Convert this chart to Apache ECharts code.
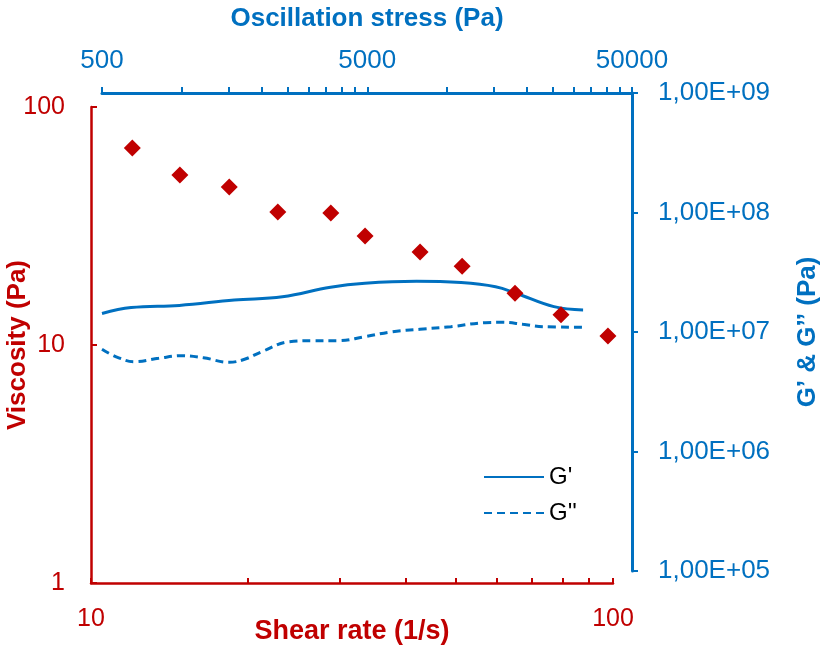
<!DOCTYPE html>
<html>
<head>
<meta charset="utf-8">
<script src="https://cdn.jsdelivr.net/npm/echarts@6/dist/echarts.min.js"></script>
<style>
  html, body { margin: 0; padding: 0; background: #fff; }
  #chart { width: 825px; height: 652px; }
</style>
</head>
<body>
<div id="chart"></div>
<script>
// viscosity vs shear rate (red diamonds)
const shearRate = [12.0, 14.8, 18.4, 22.8, 28.8, 33.5, 42.7, 51.4, 64.9, 79.5, 97.8]
const viscosity = [67.3, 51.8, 46.1, 36.2, 35.9, 28.7, 24.6, 21.4, 16.5, 13.4, 10.9]

// G' vs oscillation stress
const gpStress = [500, 644, 979, 1578, 2398, 3642, 4912, 7687, 11323, 15275, 18270, 25370, 32690]
const gPrime = [1.43e7, 1.6e7, 1.67e7, 1.85e7, 1.97e7, 2.37e7, 2.56e7, 2.66e7, 2.59e7, 2.39e7, 2.11e7, 1.63e7, 1.53e7]

// G'' vs oscillation stress
const gdpStress = [500, 572, 664, 818, 1009, 1207, 1510, 1726, 2004, 2545, 3139, 3866, 4912, 6232, 7917, 10360, 13960, 16220, 19400, 23190, 32690]
const gDoublePrime = [7.16e6, 6.14e6, 5.64e6, 6.03e6, 6.34e6, 6.09e6, 5.58e6, 5.91e6, 6.84e6, 8.3e6, 8.46e6, 8.46e6, 9.14e6, 1.006e7, 1.054e7, 1.108e7, 1.197e7, 1.205e7, 1.16e7, 1.108e7, 1.095e7]

const RED = '#C00000'
const BLUE = '#0070C0'
const FONT = "'Liberation Sans', Arial, sans-serif"

const zip = (xs, ys) => xs.map((x, i) => [x, ys[i]])

// 1,00E+09 style labels
const sciLabel = (v) => {
  const exp = Math.round(Math.log10(v))
  const mant = (v / Math.pow(10, exp)).toFixed(2).replace('.', ',')
  return mant + 'E+' + String(exp).padStart(2, '0')
}

const chart = echarts.init(document.getElementById('chart'))

const option = {
  animation: false,
  textStyle: { fontFamily: FONT },
  grid: [
    { left: 91, top: 107, right: 212, bottom: 69, outerBoundsMode: 'none' },
    { left: 102, top: 93, right: 193, bottom: 81, outerBoundsMode: 'none' },
  ],
  legend: {
    data: ["G'", "G''"],
    orient: 'vertical',
    left: 483,
    top: 465,
    padding: 0,
    itemWidth: 60,
    itemHeight: 24,
    itemGap: 12,
    itemStyle: { opacity: 0 },
    textStyle: { fontSize: 24, color: '#000', fontFamily: FONT },
  },
  xAxis: [
    {
      type: 'log',
      gridIndex: 0,
      position: 'bottom',
      min: 10,
      max: 100,
      name: 'Shear rate (1/s)',
      nameLocation: 'middle',
      nameGap: 35,
      nameMoveOverlap: false,
      nameTextStyle: { color: RED, fontSize: 27, fontWeight: 'bold', fontFamily: FONT },
      axisLine: { lineStyle: { color: RED, width: 2.5 } },
      axisTick: { inside: true, length: 5, lineStyle: { color: RED, width: 2 } },
      minorTick: { show: true, splitNumber: 9, length: 5, lineStyle: { color: RED, width: 2 } },
      axisLabel: { color: RED, fontSize: 25, margin: 24, fontFamily: FONT },
      splitLine: { show: false },
    },
    {
      type: 'log',
      gridIndex: 1,
      position: 'top',
      min: 500,
      max: 50000,
      interval: 1,
      name: 'Oscillation stress (Pa)',
      nameLocation: 'middle',
      nameGap: 61,
      nameMoveOverlap: false,
      nameTextStyle: { color: BLUE, fontSize: 26, fontWeight: 'bold', fontFamily: FONT },
      axisLine: { lineStyle: { color: BLUE, width: 3 } },
      axisTick: { inside: false, length: 6, lineStyle: { color: BLUE, width: 2 } },
      minorTick: { show: true, splitNumber: 9, length: 6, lineStyle: { color: BLUE, width: 2 } },
      axisLabel: { color: BLUE, fontSize: 26, margin: 19, fontFamily: FONT, formatter: (v) => String(Number(v.toPrecision(2))) },
      splitLine: { show: false },
    },
  ],
  yAxis: [
    {
      type: 'log',
      gridIndex: 0,
      position: 'left',
      min: 1,
      max: 100,
      name: 'Viscosity (Pa)',
      nameLocation: 'middle',
      nameGap: 60,
      nameMoveOverlap: false,
      nameTextStyle: { color: RED, fontSize: 26, fontWeight: 'bold', fontFamily: FONT },
      axisLine: { lineStyle: { color: RED, width: 2.5 } },
      axisTick: { inside: true, length: 6, lineStyle: { color: RED, width: 2 } },
      axisLabel: { color: RED, fontSize: 25, margin: 26, fontFamily: FONT },
      splitLine: { show: false },
    },
    {
      type: 'log',
      gridIndex: 1,
      position: 'right',
      min: 1e5,
      max: 1e9,
      name: 'G’ & G’’ (Pa)',
      nameLocation: 'middle',
      nameGap: 163,
      nameMoveOverlap: false,
      nameTextStyle: { color: BLUE, fontSize: 26, fontWeight: 'bold', fontFamily: FONT },
      axisLine: { lineStyle: { color: BLUE, width: 3 } },
      axisTick: { inside: false, length: 6, lineStyle: { color: BLUE, width: 2 } },
      axisLabel: { color: BLUE, fontSize: 26, margin: 26, fontFamily: FONT, formatter: sciLabel },
      splitLine: { show: false },
    },
  ],
  series: [
    {
      name: "G'",
      type: 'line',
      xAxisIndex: 1,
      yAxisIndex: 1,
      data: zip(gpStress, gPrime),
      smooth: 0.4,
      symbol: 'none',
      lineStyle: { color: BLUE, width: 3 },
      itemStyle: { color: BLUE },
      z: 2,
    },
    {
      name: "G''",
      type: 'line',
      xAxisIndex: 1,
      yAxisIndex: 1,
      data: zip(gdpStress, gDoublePrime),
      smooth: 0.4,
      symbol: 'none',
      lineStyle: { color: BLUE, width: 3, type: [8, 5] },
      itemStyle: { color: BLUE },
      z: 2,
    },
    {
      name: 'Viscosity',
      type: 'scatter',
      xAxisIndex: 0,
      yAxisIndex: 0,
      data: zip(shearRate, viscosity),
      symbol: 'diamond',
      symbolSize: 17,
      itemStyle: { color: RED, opacity: 1 },
      z: 5,
    },
  ],
}

chart.setOption(option)
</script>
</body>
</html>
